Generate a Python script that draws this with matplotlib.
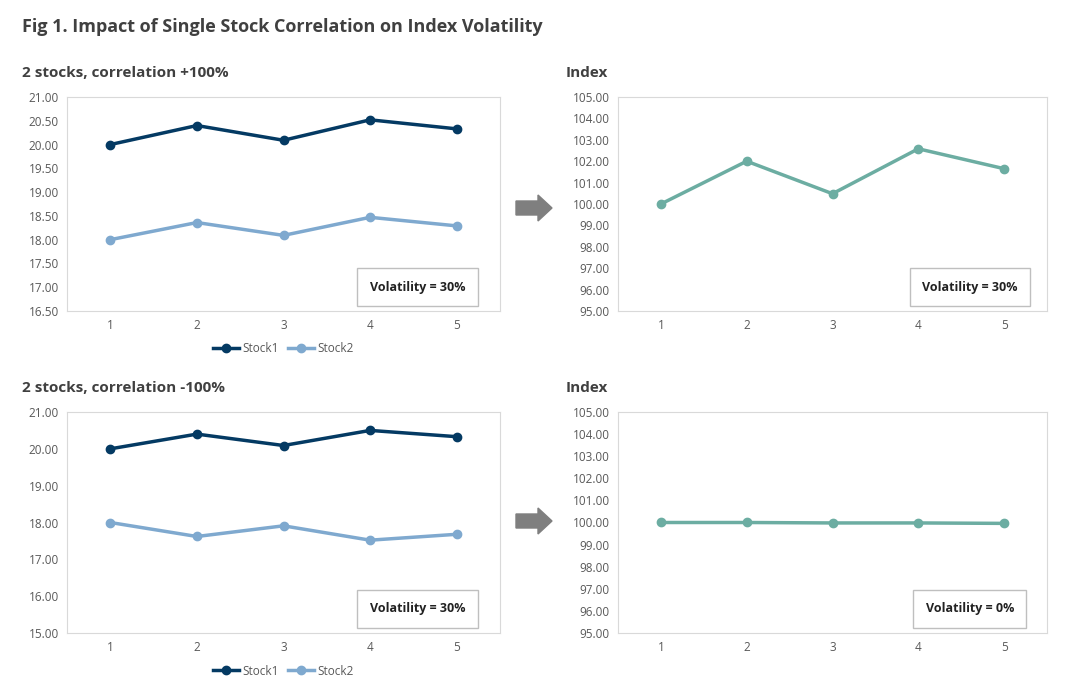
import matplotlib
matplotlib.use("Agg")
import matplotlib.pyplot as plt
from matplotlib.patches import FancyArrow

plt.rcParams["font.family"] = ["Open Sans", "DejaVu Sans"]

days = [1, 2, 3, 4, 5]
pos_stock1 = [20.00, 20.40, 20.09, 20.52, 20.33]
pos_stock2 = [18.00, 18.36, 18.09, 18.47, 18.29]
pos_index = [100.00, 102.00, 100.48, 102.58, 101.65]
neg_stock1 = [20.00, 20.40, 20.09, 20.50, 20.33]
neg_stock2 = [18.00, 17.62, 17.91, 17.52, 17.68]
neg_index = [100.00, 100.00, 99.98, 99.98, 99.96]

NAVY = "#043a63"
LIGHT = "#7fa9cf"
TEAL = "#6cada2"
TXT = "#404040"

W, H = 1072, 687
fig = plt.figure(figsize=(W / 100, H / 100), dpi=100)


def px_axes(x0, y0, x1, y1):
    return fig.add_axes([x0 / W, 1 - y1 / H, (x1 - x0) / W, (y1 - y0) / H])


def style(ax, ymin, ymax, step):
    ax.set_xlim(0.5, 5.5)
    ax.set_ylim(ymin, ymax)
    ticks = []
    v = ymin
    while v <= ymax + 1e-9:
        ticks.append(round(v, 2))
        v += step
    ax.set_yticks(ticks)
    ax.set_yticklabels([f"{t:.2f}" for t in ticks])
    ax.set_xticks(days)
    ax.tick_params(length=0, labelsize=8.5, colors="#595959", pad=6)
    for s in ax.spines.values():
        s.set_color("#d9d9d9")


def vol_box(ax, text, x0, y0):
    ax.text(x0, y0, text, transform=ax.transAxes, fontsize=9, fontweight="bold",
            color="#222222", ha="center", va="center",
            bbox=dict(boxstyle="square,pad=1.0", fc="white", ec="#bfbfbf", lw=1))


fig.text(22 / W, 1 - 27 / H, "Fig 1. Impact of Single Stock Correlation on Index Volatility",
         fontsize=13, fontweight="bold", color=TXT, va="center")

rows = [
    (97, 311, "2 stocks, correlation +100%", pos_stock1, pos_stock2, pos_index,
     (16.5, 21.0, 0.5), "Volatility = 30%", "Volatility = 30%", 208),
    (412, 633, "2 stocks, correlation -100%", neg_stock1, neg_stock2, neg_index,
     (15.0, 21.0, 1.0), "Volatility = 30%", "Volatility = 0%", 521),
]

for top, bot, label, s1, s2, idx, lim, vol_l, vol_r, arr_y in rows:
    fig.text(22 / W, 1 - (top - 24) / H, label, fontsize=11, fontweight="bold",
             color=TXT, va="center")
    fig.text(566 / W, 1 - (top - 24) / H, "Index", fontsize=11, fontweight="bold",
             color=TXT, va="center")

    ax = px_axes(67, top, 500, bot)
    ax.plot(days, s1, color=NAVY, lw=2.5, marker="o", ms=6, label="Stock1")
    ax.plot(days, s2, color=LIGHT, lw=2.5, marker="o", ms=6, label="Stock2")
    style(ax, *lim)
    vol_box(ax, vol_l, 0.81, 0.11)
    ax.legend(loc="upper center", bbox_to_anchor=(0.5, -0.095), ncol=2, frameon=False,
              fontsize=8.5, handlelength=2.2, columnspacing=0.8, handletextpad=0.3,
              labelcolor="#595959")

    ax2 = px_axes(618, top, 1047, bot)
    ax2.plot(days, idx, color=TEAL, lw=2.5, marker="o", ms=6)
    style(ax2, 95.0, 105.0, 1.0)
    vol_box(ax2, vol_r, 0.82, 0.11)

    arr = FancyArrow(516 / W, 1 - arr_y / H, 22 / W, 0, width=14 / H,
                     head_width=26 / H, head_length=14 / W, color="#7f7f7f",
                     transform=fig.transFigure, length_includes_head=False)
    fig.patches.append(arr)

fig.savefig("out.png", dpi=100)
